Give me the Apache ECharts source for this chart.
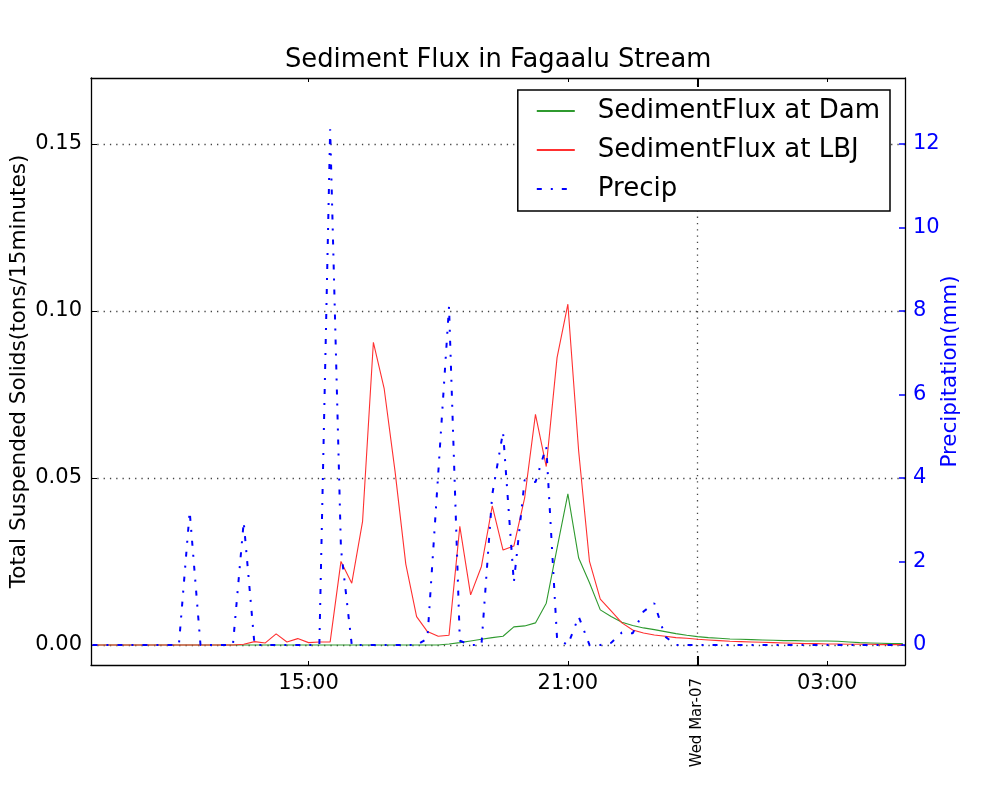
<!DOCTYPE html>
<html><head><meta charset="utf-8">
<script src="https://cdn.jsdelivr.net/npm/echarts@6/dist/echarts.min.js"></script>
<style>html,body{margin:0;padding:0;background:#fff}#c{width:1005px;height:790px}</style>
</head><body><div id="c"></div>
<script>
// ---- data ----
const day1 = '2012-03-06';
const day2 = '2012-03-07';
const day1Clock = ['10:00','10:15','10:30','10:45','11:00','11:15','11:30','11:45','12:00','12:15','12:30','12:45',
  '13:00','13:15','13:30','13:45','14:00','14:15','14:30','14:45','15:00','15:15','15:30','15:45',
  '16:00','16:15','16:30','16:45','17:00','17:15','17:30','17:45','18:00','18:15','18:30','18:45',
  '19:00','19:15','19:30','19:45','20:00','20:15','20:30','20:45','21:00','21:15','21:30','21:45',
  '22:00','22:15','22:30','22:45','23:00','23:15','23:30','23:45'];
const day2Clock = ['00:00','00:15','00:30','00:45','01:00','01:15','01:30','01:45','02:00','02:15','02:30','02:45',
  '03:00','03:15','03:30','03:45','04:00','04:15','04:30','04:45'];

const fluxLBJ = [0,0,0,0,0,0,0,0,0,0,0,0,0,0,
  0.0002,0.001,0.0006,0.0033,0.0009,0.0019,0.0007,0.0009,0.0009,0.025,0.0185,0.037,
  0.0906,0.0767,0.0521,0.0242,0.0085,0.004,0.0026,0.0029,0.0355,0.015,0.0235,0.0416,
  0.0284,0.0296,0.044,0.069,0.0534,0.086,0.102,0.058,0.025,0.0137,0.0102,0.0066,
  0.0045,0.0036,0.003,0.0026,0.0022,0.002,0.0017,0.0015,0.0013,0.0011,0.001,0.0009,
  0.0008,0.0007,0.0006,0.0005,0.0004,0.0004,0.0003,0.0003,0.0002,0.0002,0.0002,0.0001,0.0001,0.0001];

const fluxDam = [0,0,0,0,0,0,0,0,0,0,0,0,0,0,0,0,0,0,0,0,0,0,0,0,0,0,0,0,0,0,0,0,0,
  0.0003,0.0007,0.0012,0.0017,0.0022,0.0026,0.0054,0.0057,0.0066,0.0125,0.029,0.0452,
  0.026,0.0186,0.0105,0.0085,0.0068,0.0058,0.0051,0.0046,0.004,0.0034,0.0029,0.0025,
  0.0022,0.002,0.0018,0.0017,0.0016,0.0015,0.0014,0.0013,0.0013,0.0012,0.0012,0.0012,
  0.0011,0.0009,0.0007,0.0006,0.0005,0.0004,0.0004];

const precip = [0,0,0,0,0,0,0,0,0,3.2,0,0,0,0,2.95,0,0,0,0,0,0,0,12.35,2.3,0,0,0,0,0,0,0,
  0.15,4.1,8.1,0.1,0,0,3.6,5.1,1.5,3.95,3.9,4.75,0.15,0,0.68,0,0,0.05,0.3,0.28,0.8,1.0,0.2,
  0,0,0,0,0,0,0,0,0,0,0,0,0,0,0,0,0,0,0,0,0,0];

const xTickTimes = ['2012-03-06 15:00','2012-03-06 21:00','2012-03-07 03:00'];
const xTickLabels = ['15:00','21:00','03:00'];
const dateTickTime = '2012-03-07 00:00';
const dateTickLabel = 'Wed Mar-07';
const yTicks = [0, 0.05, 0.10, 0.15];
const y2Ticks = [0, 2, 4, 6, 8, 10, 12];
const xMin = '2012-03-06 09:58', xMax = '2012-03-07 04:48';
const yMin = -0.006, yMax = 0.1697;
const y2Min = -0.48, y2Max = 13.58;

// ---- build ----
const times = day1Clock.map(c => day1 + ' ' + c).concat(day2Clock.map(c => day2 + ' ' + c));
const ts = s => new Date(s.replace(' ', 'T') + ':00').getTime();
const timeTs = times.map(ts);
const xTickTs = xTickTimes.map(ts);
const dateTs = ts(dateTickTime);
const font = 'DejaVu Sans';
const dotted = {color: '#444', width: 1.3, type: [1.3, 5]};
const blk = {color: '#000', width: 1.3};

const chart = echarts.init(document.getElementById('c'), null, {renderer: 'canvas'});
const xBase = {type: 'value', min: ts(xMin), max: ts(xMax), scale: true};
const option = {
  animation: false,
  backgroundColor: '#fff',
  textStyle: {fontFamily: font},
  title: {
    text: 'Sediment Flux in Fagaalu Stream', left: 280, top: 42,
    textStyle: {fontFamily: font, fontSize: 25.8, fontWeight: 'normal', color: '#000'}
  },
  legend: {
    data: ['SedimentFlux at Dam', 'SedimentFlux at LBJ', 'Precip'],
    orient: 'vertical', right: 115, top: 90,
    itemWidth: 38, itemHeight: 14, itemGap: 13,
    padding: [8, 10, 9, 18],
    borderColor: '#000', borderWidth: 1.5, borderRadius: 0, backgroundColor: '#fff',
    itemStyle: {opacity: 0, color: 'rgba(0,0,0,0)', borderWidth: 0},
    textStyle: {fontFamily: font, fontSize: 26, color: '#000', padding: [0, 0, 0, 18]}
  },
  grid: {left: 91, right: 100, top: 78, bottom: 125, containLabel: false, outerBoundsMode: 'none'},
  xAxis: [
    Object.assign({}, xBase, {
      position: 'bottom',
      axisLine: {show: true, onZero: false, lineStyle: blk},
      axisTick: {show: true, inside: true, length: 4, customValues: xTickTs, lineStyle: {color: '#000', width: 1}},
      axisLabel: {
        customValues: xTickTs, fontFamily: font, fontSize: 21, color: '#000', margin: 8, hideOverlap: false,
        formatter: v => { const k = xTickTs.findIndex(t => Math.abs(t - v) < 60000); return k >= 0 ? xTickLabels[k] : ''; }
      },
      splitLine: {show: false}
    }),
    Object.assign({}, xBase, {
      position: 'bottom',
      axisLine: {show: false, onZero: false},
      axisTick: {show: true, inside: true, length: 9, customValues: [dateTs], lineStyle: {color: '#000', width: 2}},
      axisLabel: {customValues: [dateTs], rotate: 90, fontFamily: font, fontSize: 15, color: '#000', margin: 13,
        hideOverlap: false, formatter: () => dateTickLabel},
      splitLine: {show: true, lineStyle: dotted}
    }),
    Object.assign({}, xBase, {
      position: 'top',
      axisLine: {show: true, onZero: false, lineStyle: blk},
      axisTick: {show: true, inside: true, length: 4, customValues: xTickTs, lineStyle: {color: '#000', width: 1}},
      axisLabel: {show: false}, splitLine: {show: false}
    }),
    Object.assign({}, xBase, {
      position: 'top',
      axisLine: {show: false, onZero: false},
      axisTick: {show: true, inside: true, length: 9, customValues: [dateTs], lineStyle: {color: '#000', width: 2}},
      axisLabel: {show: false}, splitLine: {show: false}
    })
  ],
  yAxis: [
    {
      type: 'value', position: 'left', min: yMin, max: yMax,
      name: 'Total Suspended Solids(tons/15minutes)', nameLocation: 'middle', nameGap: 61, nameMoveOverlap: false,
      nameTextStyle: {fontFamily: font, fontSize: 21.6, color: '#000'},
      axisLine: {show: true, onZero: false, lineStyle: blk},
      axisTick: {show: true, inside: true, length: 6, customValues: yTicks, lineStyle: {color: '#000', width: 1}},
      axisLabel: {customValues: yTicks, fontFamily: font, fontSize: 21, color: '#000', margin: 9,
        formatter: v => v.toFixed(2)},
      splitLine: {show: true, lineStyle: dotted}
    },
    {
      type: 'value', position: 'right', min: y2Min, max: y2Max,
      name: 'Precipitation(mm)', nameLocation: 'middle', nameGap: 35, nameMoveOverlap: false,
      nameTextStyle: {fontFamily: font, fontSize: 21.4, color: '#0000ff'},
      axisLine: {show: true, onZero: false, lineStyle: blk},
      axisTick: {show: true, inside: true, length: 6, customValues: y2Ticks, lineStyle: {color: '#0000ff', width: 1.5}},
      axisLabel: {customValues: y2Ticks, fontFamily: font, fontSize: 21, color: '#0000ff', margin: 8,
        formatter: v => String(v)},
      splitLine: {show: false}
    }
  ],
  series: [
    {name: 'SedimentFlux at Dam', type: 'line', xAxisIndex: 0, yAxisIndex: 0, symbol: 'none',
      data: timeTs.map((t, i) => [t, fluxDam[i]]),
      lineStyle: {color: '#2f9a2f', width: 1.1}, itemStyle: {color: '#2f9a2f'}},
    {name: 'SedimentFlux at LBJ', type: 'line', xAxisIndex: 0, yAxisIndex: 0, symbol: 'none',
      data: timeTs.map((t, i) => [t, fluxLBJ[i]]),
      lineStyle: {color: '#ff3030', width: 1.1}, itemStyle: {color: '#ff3030'}},
    {name: 'Precip', type: 'line', xAxisIndex: 0, yAxisIndex: 1, symbol: 'none',
      data: timeTs.map((t, i) => [t, precip[i]]),
      lineStyle: {color: '#0000ff', width: 2, type: [5, 9, 2, 9]}, itemStyle: {color: '#0000ff'}}
  ]
};
chart.setOption(option);
</script></body></html>
